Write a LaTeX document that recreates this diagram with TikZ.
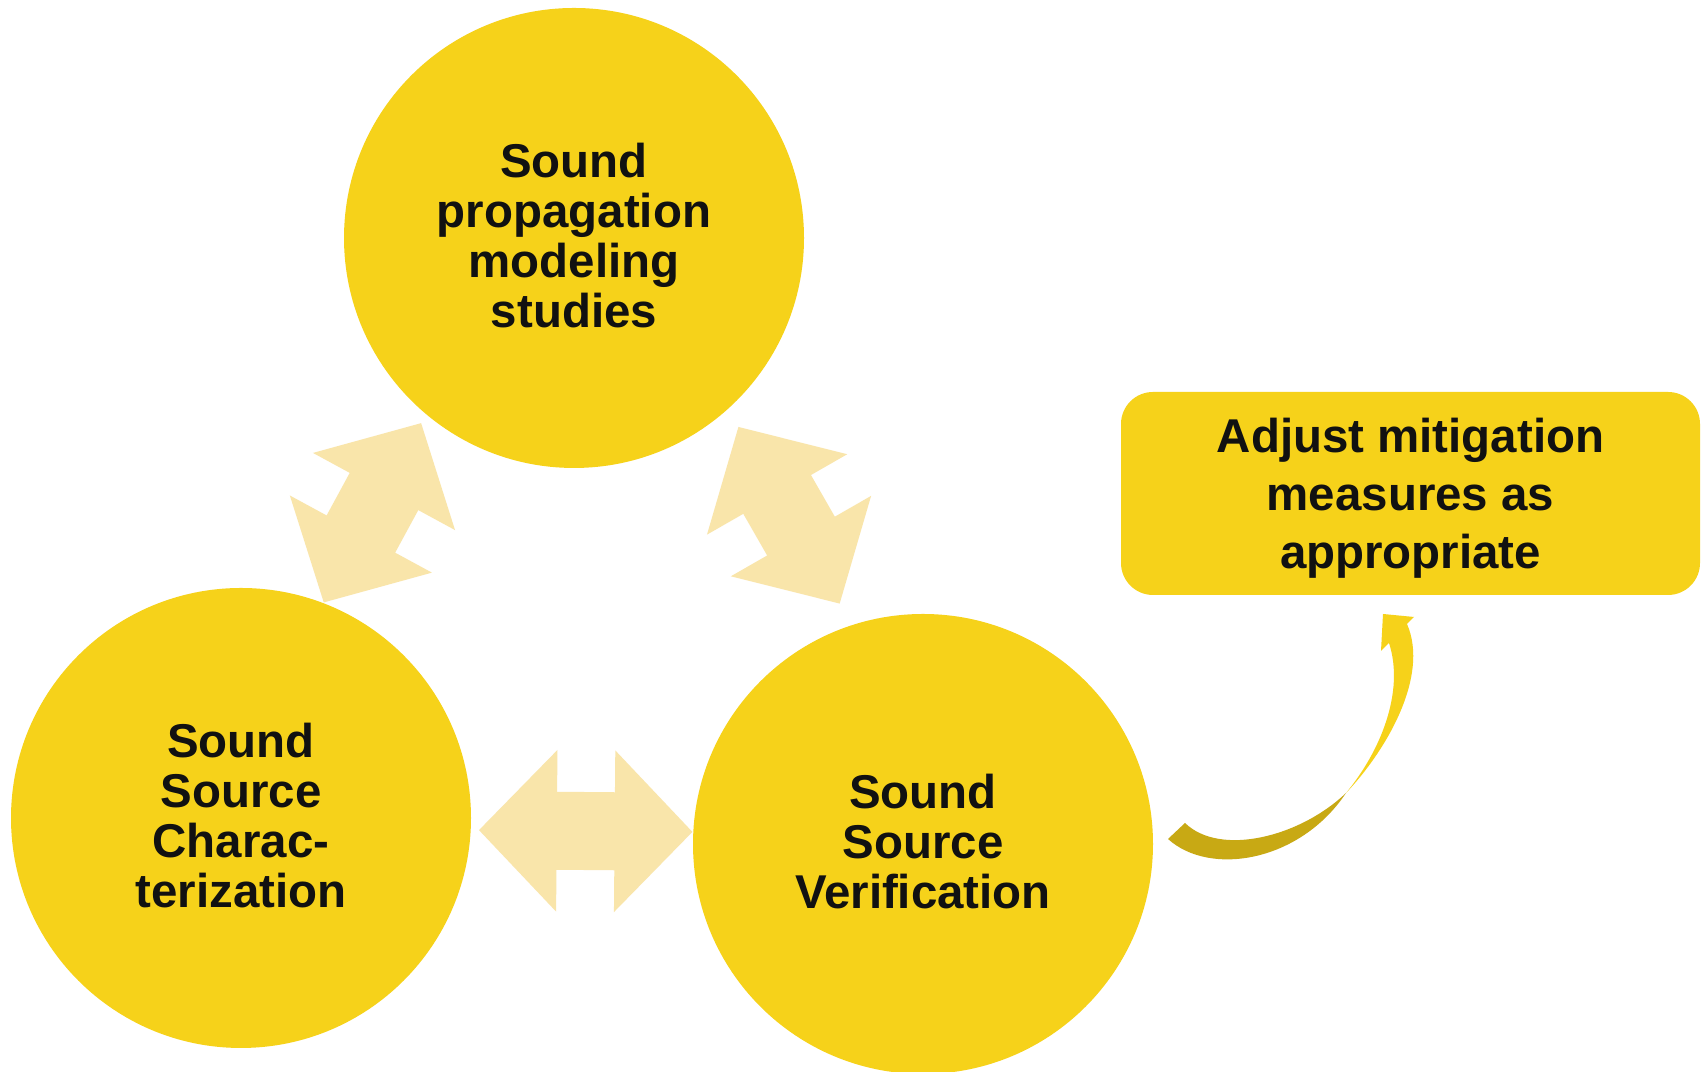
\documentclass[tikz,border=0pt]{standalone}
\usepackage{fontspec}
\setmainfont{Liberation Sans}
\definecolor{stageyellow}{RGB}{246, 210, 26}
\definecolor{linkpale}{RGB}{249, 229, 170}
\definecolor{loopdark}{RGB}{200, 169, 20}
\definecolor{textdark}{RGB}{17, 17, 17}
\usetikzlibrary{arrows.meta, positioning, calc}

\tikzset{
  stage/.style={circle, fill=stageyellow, minimum size=4.6cm, inner sep=0pt, align=center,
    text=textdark, text depth=0.05cm, font=\bfseries\fontsize{13.5}{14.2}\selectfont},
  twoway/.style={draw=linkpale, line width=0.78cm,
    {Triangle[width=1.57cm, length=0.78cm]}-{Triangle[width=1.57cm, length=0.78cm]}},
}

\begin{document}
\begin{tikzpicture}
  \fill[white] (0,0) rectangle (17.03,10.72);
  \useasboundingbox (0,0) rectangle (17.03,10.72);

  % The three stages
  \node[stage] (model) at (5.74, 8.34) {Sound\\propagation\\modeling\\studies};
  \node[stage] (charac) at (2.41, 2.54) {Sound\\Source\\Charac-\\terization};
  \node[stage] (verif) at (9.23, 2.28) {Sound\\Source\\Verification};

  % Feedback box
  \node[fill=stageyellow, rounded corners=0.32cm, minimum width=5.79cm, minimum height=2.03cm,
    align=center, text=textdark, text depth=0pt, font=\bfseries\fontsize{13.5}{16.5}\selectfont]
    (adjust) at (14.105, 5.785) {Adjust mitigation\\measures as\\appropriate};

  % Links between the stages
  \draw[twoway, shorten >=0.094cm] (charac.69.7) -- (model.230.66);
  \draw[twoway, shorten <=0.2cm, shorten >=0.24cm] (model.-48.3) -- (verif.108.2);
  \draw[twoway, shorten <=0.074cm] (charac.-3.5) -- (verif.177);

  % Twisted arrow up to the box
  \fill[loopdark] (13.46,2.79) .. controls (13.0,2.35) and (12.2,2.15) .. (11.85,2.49)
    -- (11.68,2.33) .. controls (12.1,1.95) and (13.0,2.1) .. (13.46,2.79) -- cycle;
  \fill[stageyellow] (13.46,2.79) .. controls (13.85,3.2) and (14.3,3.95) .. (14.07,4.48)
    -- (14.14,4.55) -- (13.83,4.58) -- (13.81,4.21) -- (13.89,4.29)
    .. controls (14.05,3.8) and (13.8,3.2) .. (13.46,2.79) -- cycle;
\end{tikzpicture}
\end{document}
